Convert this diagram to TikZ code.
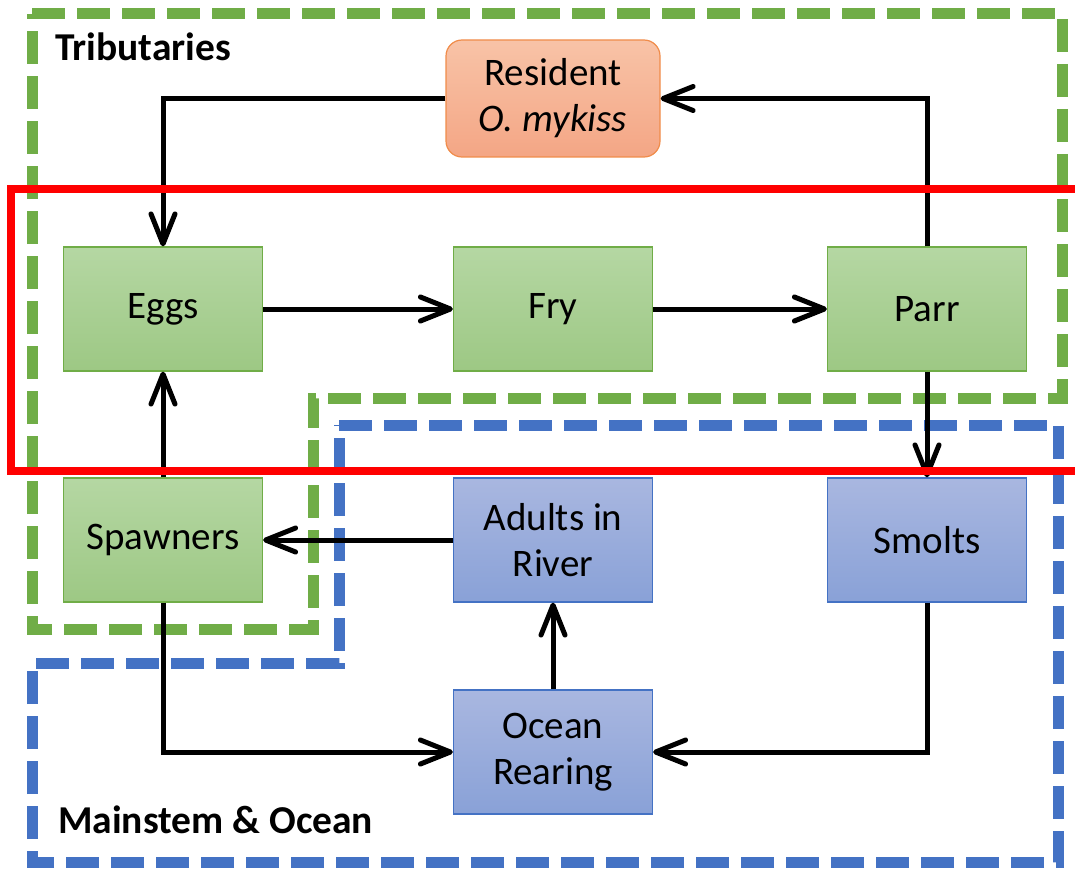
\documentclass[tikz,border=0pt]{standalone}
\usepackage{fontspec}
\setmainfont{Carlito}
\usetikzlibrary{arrows.meta}
\definecolor{gtop}{HTML}{B5D7A3}
\definecolor{gbot}{HTML}{9DC884}
\definecolor{gline}{HTML}{70AD47}
\definecolor{btop}{HTML}{A9B7E0}
\definecolor{bbot}{HTML}{89A1D7}
\definecolor{bline}{HTML}{4472C4}
\definecolor{otop}{HTML}{F8C3A7}
\definecolor{obot}{HTML}{F4A685}
\definecolor{oline}{HTML}{F08C4A}
\definecolor{redline}{HTML}{FF0000}
\tikzset{
  boxbase/.style={rectangle, minimum width=199, minimum height=124, align=center,
    font=\fontsize{39}{46}\selectfont, line width=1.2pt, inner sep=0pt},
  greenbox/.style={boxbase, draw=gline, top color=gtop, bottom color=gbot},
  bluebox/.style={boxbase, draw=bline, top color=btop, bottom color=bbot},
  orangebox/.style={boxbase, draw=oline, top color=otop, bottom color=obot,
    rounded corners=16pt, minimum width=214, minimum height=117},
  flow/.style={line width=5pt, -{Straight Barb[length=30pt, width=24pt, round]}},
  region/.style={line width=11pt, dash pattern=on 33pt off 12pt},
  regionlabel/.style={font=\fontsize{39.5}{46}\selectfont\bfseries, inner sep=0pt, anchor=base west}
}
\begin{document}
\begin{tikzpicture}[x=1pt, y=-1pt]
\useasboundingbox (0,0) rectangle (1075,869);
% regions
\draw[region, gline] (32,14) -- (1062,14) -- (1062,398) -- (313,398) -- (313,629) -- (32,629) -- cycle;
\draw[region, bline] (339,425) -- (1058,425) -- (1058,862) -- (32,862) -- (32,663) -- (339,663) -- cycle;
\node[regionlabel] (trib) at (55,61) {Tributaries};
\node[regionlabel] (main) at (58,833) {Mainstem \& Ocean};
% nodes
\node[orangebox] (res) at (553,98.5) {Resident\\\textit{O. mykiss}};
\node[greenbox] (eggs) at (163,309) {Eggs};
\node[greenbox] (fry) at (553,309) {Fry};
\node[greenbox] (parr) at (927,309) {Parr};
\node[greenbox] (spawn) at (163,540) {Spawners};
\node[bluebox] (adults) at (553,540) {Adults in\\River};
\node[bluebox] (smolts) at (927,540) {Smolts};
\node[bluebox] (ocean) at (553,752) {Ocean\\Rearing};
% connectors
\draw[flow] (res.west) -| (eggs.north);
\draw[flow] (parr.north) |- (res.east);
\draw[flow] (eggs) -- (fry);
\draw[flow] (fry) -- (parr);
\draw[flow] (parr) -- (smolts);
\draw[flow] (smolts.south) |- (ocean.east);
\draw[flow] (spawn.south) |- (ocean.west);
\draw[flow] (ocean) -- (adults);
\draw[flow] (adults) -- (spawn);
\draw[flow] (spawn) -- (eggs);
% highlight
\draw[redline, line width=8pt] (11,189) rectangle (1085,471);
\end{tikzpicture}
\end{document}
